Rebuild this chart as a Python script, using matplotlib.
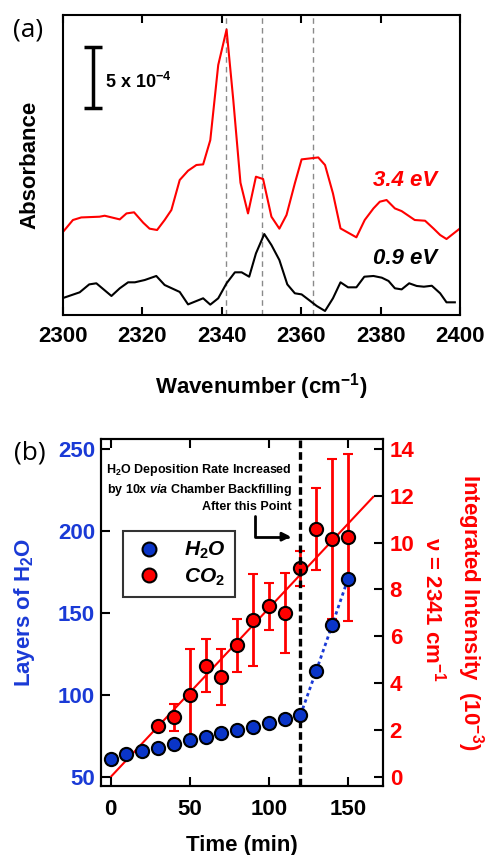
import matplotlib
matplotlib.use('Agg')
import matplotlib.pyplot as plt
from matplotlib.lines import Line2D

plt.rcParams['font.family'] = ['Liberation Sans', 'DejaVu Sans']
plt.rcParams['font.weight'] = 'bold'
plt.rcParams['axes.labelweight'] = 'bold'
plt.rcParams['mathtext.fontset'] = 'custom'
plt.rcParams['mathtext.rm'] = 'Liberation Sans:bold'
plt.rcParams['mathtext.it'] = 'Liberation Sans:bold:italic'
plt.rcParams['mathtext.bf'] = 'Liberation Sans:bold'

# ---------------- data: panel (a) ----------------
wn_red = [2300.25, 2302.5, 2304.6, 2309.2, 2310.5, 2314.3, 2316.0, 2317.9, 2320.2, 2321.8,
          2323.7, 2325.6, 2327.3, 2329.4, 2331.5, 2333.6, 2335.3, 2337.1, 2339.1, 2341.2,
          2342.9, 2344.7, 2346.6, 2348.6, 2350.4, 2352.5, 2354.5, 2356.3, 2358.4, 2360.1,
          2364.3, 2366.0, 2368.0, 2369.9, 2373.9, 2376.0, 2378.2, 2379.8, 2381.5, 2383.6,
          2385.3, 2388.6, 2391.2, 2393.3, 2395.0, 2396.6, 2400.0]
abs_red = [6.91, 7.79, 8.00, 8.06, 8.14, 7.84, 8.33, 8.42, 7.57, 7.08,
           6.97, 7.79, 8.61, 11.07, 11.83, 12.30, 12.35, 14.34, 20.5, 23.4,
           17.6, 10.85, 8.33, 11.34, 11.15, 8.06, 7.08, 8.20, 10.8, 12.76,
           12.92, 12.30, 9.97, 7.10, 6.37, 7.79, 8.74, 9.29, 9.43, 8.74,
           8.52, 7.79, 7.73, 7.10, 6.56, 6.23, 7.10]

wn_black = [2300.25, 2304.2, 2306.6, 2308.4, 2312.2, 2314.3, 2316.4, 2318.1, 2320.6, 2323.5,
            2325.6, 2329.4, 2331.5, 2335.3, 2337.1, 2339.1, 2341.2, 2343.3, 2345.0, 2346.9,
            2348.6, 2350.7, 2352.5, 2354.5, 2356.5, 2358.4, 2360.1, 2362.2, 2363.9, 2366.0,
            2368.0, 2369.9, 2371.8, 2373.9, 2375.9, 2378.2, 2380.3, 2382.0, 2383.6, 2385.3,
            2387.2, 2389.1, 2390.9, 2392.9, 2395.0, 2396.6, 2398.7]
abs_black = [1.42, 1.86, 2.51, 2.60, 1.56, 2.19, 2.68, 2.68, 2.87, 3.20,
             2.46, 1.89, 0.87, 1.37, 0.85, 1.37, 2.60, 3.50, 3.50, 3.14,
             5.05, 6.64, 5.74, 4.51, 2.51, 1.78, 1.69, 1.17, 0.74, 0.33,
             1.37, 2.68, 2.27, 2.27, 3.14, 3.20, 3.06, 2.79, 2.19, 2.10,
             2.60, 2.38, 2.32, 2.40, 1.78, 1.04, 1.04]

peak_lines = [2341, 2350, 2363]
scale_bar = 5            # 5 x 10^-4 (units of 1e-4)
scale_x = 2307.6
scale_y0 = 16.97
curve_labels = ['3.4 eV', '0.9 eV']

# ---------------- data: panel (b) ----------------
t_h2o = [0, 10, 20, 30, 40, 50, 60, 70, 80, 90, 100, 110, 120, 130, 140, 150]
h2o_layers = [61.2, 63.8, 65.9, 67.9, 70.4, 72.4, 74.4, 76.5, 78.5, 80.5,
              82.6, 85.6, 87.7, 114.8, 142.5, 170.6]
t_co2 = [30, 40, 50, 60, 70, 80, 90, 100, 110, 120, 130, 140, 150]
co2_int = [2.19, 2.55, 3.48, 4.75, 4.28, 5.61, 6.69, 7.28, 7.01, 8.91, 10.58, 10.15, 10.22]
co2_err = [0.0, 0.58, 1.98, 1.13, 1.19, 1.11, 1.95, 1.01, 1.71, 0.75, 1.77, 3.43, 3.57]
fit_t = [0, 166]
fit_v = [0.0, 11.95]
t_switch = 120

RED = '#ff0000'
BLUE = '#1a3ad6'
BLUE_FILL = '#0a35c8'

W, H = 489, 855
fig = plt.figure(figsize=(W / 100, H / 100), dpi=100)


def px(l, t, r, b):
    return [l / W, 1 - b / H, (r - l) / W, (b - t) / H]


# ================= Panel (a) =================
axA = fig.add_axes(px(63, 15, 460, 315))
for w in peak_lines:
    axA.axvline(w, color='#8a8a8a', ls=(0, (4, 3)), lw=1.0, zorder=1)
axA.plot(wn_black, abs_black, color='black', lw=1.5, zorder=2)
axA.plot(wn_red, abs_red, color=RED, lw=1.5, zorder=2)
axA.set_xlim(2300, 2400)
axA.set_ylim(0, 24.6)
axA.set_xticks(range(2300, 2401, 20))
axA.set_yticks([])
axA.tick_params(axis='x', direction='in', top=True, bottom=True, length=6,
                width=1.5, labelsize=16, pad=8)
for s in axA.spines.values():
    s.set_linewidth(1.5)
axA.set_xlabel('Wavenumber (cm$^{-1}$)', fontsize=16, labelpad=17)
axA.set_ylabel('Absorbance', fontsize=16, labelpad=16)

axA.errorbar([scale_x], [scale_y0 + scale_bar / 2], yerr=scale_bar / 2, fmt='none',
             ecolor='black', elinewidth=2.5, capsize=6.5, capthick=2.5)
axA.text(scale_x + 3.0, scale_y0 + scale_bar / 2 - 0.4, '5 x 10$^{-4}$', fontsize=13,
         ha='left', va='center')
axA.text(2394.2, 11.07, curve_labels[0], color=RED, fontsize=16, style='italic',
         ha='right', va='center')
axA.text(2394.2, 4.67, curve_labels[1], color='black', fontsize=16, style='italic',
         ha='right', va='center')
fig.text(28 / W, 1 - 30 / H, '(a)', fontsize=19, fontweight='normal',
         family=['Open Sans', 'DejaVu Sans'], ha='center', va='center')

# ================= Panel (b) =================
axB = fig.add_axes(px(100.7, 439, 382.7, 786))
axB2 = axB.twinx()
axB.set_zorder(axB2.get_zorder() + 1)
axB.patch.set_visible(False)

axB2.plot(fit_t, fit_v, color=RED, lw=1.5, zorder=1)
axB2.errorbar(t_co2, co2_int, yerr=co2_err, fmt='o', color=RED, mfc=RED, mec='black',
              mew=1.5, ms=9.5, ecolor=RED, elinewidth=2, capsize=3.5, capthick=2, zorder=3)

i0 = t_h2o.index(t_switch)
axB.plot(t_h2o[i0:], h2o_layers[i0:], color=BLUE, ls=(0, (1.2, 1.2)), lw=2, zorder=2)
axB.axvline(t_switch, color='black', ls=(0, (2.3, 1.2)), lw=2.4, zorder=2.5)
axB.plot(t_h2o, h2o_layers, 'o', mfc=BLUE_FILL, mec='black', mew=1.5, ms=9.5, zorder=3)

axB.set_xlim(-6.3, 172)
axB.set_ylim(44.5, 256)
axB2.set_ylim(-0.385, 14.42)
axB.set_xticks([0, 50, 100, 150])
axB.set_yticks([50, 100, 150, 200, 250])
axB2.set_yticks(range(0, 15, 2))
axB.tick_params(axis='x', direction='in', top=True, bottom=True, length=6.5, width=1.5,
                labelsize=16, pad=9)
axB.tick_params(axis='y', direction='in', left=True, right=False, length=6.5, width=1.5,
                labelsize=16, labelcolor=BLUE, pad=4)
axB2.tick_params(axis='y', direction='in', right=True, left=False, length=6.5, width=1.5,
                 labelsize=16, labelcolor=RED, pad=5)
for a in (axB, axB2):
    for s in a.spines.values():
        s.set_linewidth(1.5)

axB.set_xlabel('Time (min)', fontsize=16, labelpad=11)
axB.set_ylabel('Layers of H$_2$O', fontsize=16, color=BLUE, labelpad=15)
fig.text(470 / W, 1 - 612 / H, 'Integrated Intensity  (10$^{-3}$)', color=RED,
         fontsize=16, rotation=270, ha='center', va='center')
fig.text(433 / W, 1 - 610 / H, 'ν = 2341 cm$^{-1}$', color=RED,
         fontsize=16, rotation=270, ha='center', va='center')

fig.text(292 / W, 1 - 462 / H,
         'H$_2$O Deposition Rate Increased\nby 10x $via$ Chamber Backfilling\nAfter this Point',
         fontsize=9, ha='right', va='top', linespacing=1.35)

axB.annotate('', xy=(291, H - 536.7), xytext=(255, H - 516), xycoords='figure pixels',
             textcoords='figure pixels',
             arrowprops=dict(arrowstyle='-|>,head_length=0.5,head_width=0.25', lw=2,
                             color='black', shrinkA=0, shrinkB=0,
                             connectionstyle='angle,angleA=90,angleB=0,rad=0'))

handles = [Line2D([], [], marker='o', ls='none', mfc=BLUE_FILL, mec='black', mew=1.5,
                  ms=10, label='$H_2O$'),
           Line2D([], [], marker='o', ls='none', mfc=RED, mec='black', mew=1.5,
                  ms=10, label='$CO_2$')]
leg = axB.legend(handles=handles, loc='upper left', bbox_to_anchor=(122.7 / W, 1 - 530.7 / H),
                 bbox_transform=fig.transFigure, frameon=True, fancybox=False,
                 edgecolor='black', fontsize=15, borderpad=0.45, handletextpad=0.9,
                 handlelength=1.6, labelspacing=0.25, borderaxespad=0)
leg.get_frame().set_linewidth(1.5)
fig.text(30 / W, 1 - 453 / H, '(b)', fontsize=19, fontweight='normal',
         family=['Open Sans', 'DejaVu Sans'], ha='center', va='center')

fig.savefig('out.png', dpi=100)
